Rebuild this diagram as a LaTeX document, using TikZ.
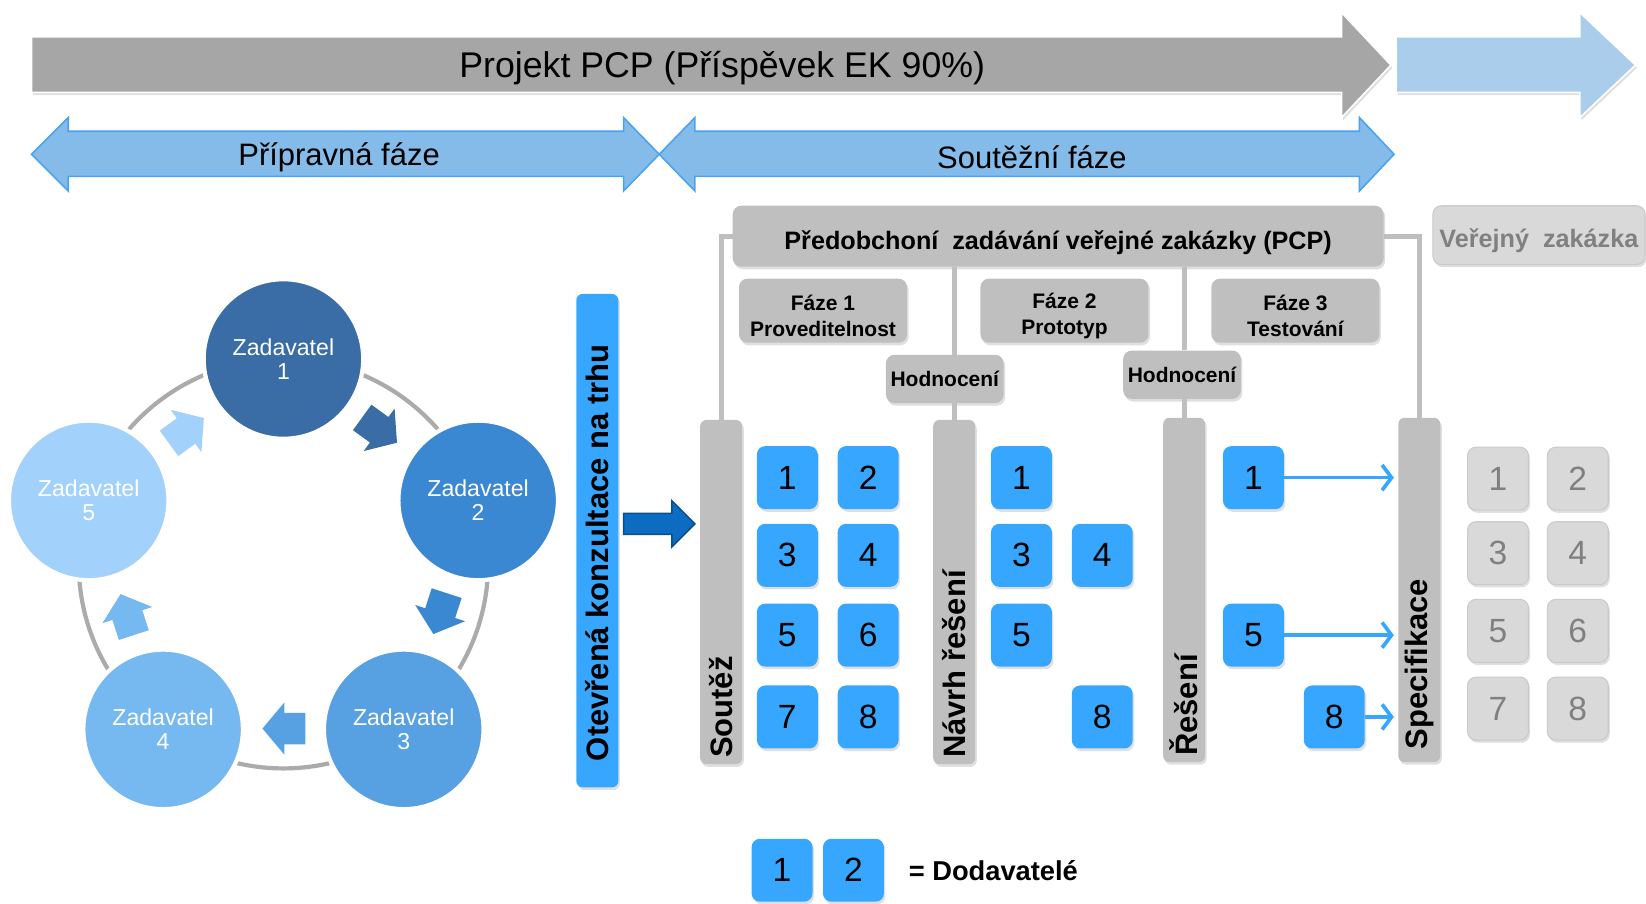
\documentclass[tikz,border=0pt]{standalone}
\usepackage{fontspec}
\setmainfont{Liberation Sans}
\usetikzlibrary{positioning,shadows,arrows.meta}

\definecolor{projgray}{HTML}{A6A6A6}
\definecolor{nextblue}{HTML}{A9CDEB}
\definecolor{phasefill}{HTML}{85BBE8}
\definecolor{phaseedge}{HTML}{4AA3EE}
\definecolor{boxgray}{HTML}{BFBFBF}
\definecolor{suppblue}{HTML}{36A6FE}
\definecolor{ghostfill}{HTML}{D9D9D9}
\definecolor{ghostedge}{HTML}{CACACA}
\definecolor{ghosttext}{HTML}{808080}
\definecolor{pushblue}{HTML}{0B6CC2}
\definecolor{pushedge}{HTML}{0B4C8A}
\definecolor{ringgray}{HTML}{ABABAB}
\definecolor{zadA}{HTML}{3A6CA6}
\definecolor{zadB}{HTML}{3A87D2}
\definecolor{zadC}{HTML}{57A1E3}
\definecolor{zadD}{HTML}{76B9F1}
\definecolor{zadE}{HTML}{A2D2FC}

\tikzset{
  softshadow/.style={drop shadow={shadow xshift=1.5pt,shadow yshift=-2.5pt,opacity=0.25}},
  greybox/.style={fill=boxgray, rounded corners=8pt, inner sep=0pt, softshadow},
  phasebox/.style={greybox, minimum width=160pt, minimum height=61pt},
  phasetext/.style={align=center, inner sep=0pt, font=\bfseries\fontsize{20}{24}\selectfont},
  evalbox/.style={greybox, minimum width=112pt, minimum height=46pt,
    font=\bfseries\fontsize{20}{24}\selectfont},
  stagebar/.style={greybox, rounded corners=6pt, minimum width=40pt, minimum height=328pt},
  bartext/.style={rotate=90, anchor=west, inner sep=0pt,
    font=\bfseries\fontsize{29.5}{34}\selectfont},
  supplier/.style={fill=suppblue, rounded corners=8pt, minimum width=58pt, minimum height=60pt,
    inner sep=0pt, font=\fontsize{32}{36}\selectfont, softshadow},
  ghost/.style={supplier, fill=ghostfill, draw=ghostedge, line width=1pt, text=ghosttext},
  zadavatel/.style={circle, minimum size=152pt, inner sep=0pt, draw=white, line width=4pt,
    text=white, align=center, font=\fontsize{22}{23}\selectfont},
  link/.style={draw=boxgray, line width=5pt},
  pick/.style={draw=suppblue, line width=3.5pt, -{Straight Barb[length=9pt,width=24pt]}},
}

\begin{document}
\begin{tikzpicture}[x=1pt, y=-1pt]
\useasboundingbox (0,0) rectangle (1568,861);

% project arrows
\draw[fill=projgray, draw=white, line width=1.5pt, softshadow] (30,35) -- (1278,35) -- (1278,12) -- (1325,62) -- (1278,112) -- (1278,88) -- (30,88) -- cycle;
\node[font=\fontsize{34}{40}\selectfont] (projekt) at (688,65) {Projekt PCP (Příspěvek EK 90\%)};
\draw[fill=nextblue, draw=white, line width=1.5pt, softshadow] (1330,35) -- (1505,35) -- (1505,12) -- (1558,62) -- (1505,112) -- (1505,88) -- (1330,88) -- cycle;

% phases
\draw[fill=phasefill, draw=phaseedge, line width=1.5pt] (30,147) -- (65,112) -- (65,125) -- (594,125) -- (594,112) -- (628,147) -- (594,182) -- (594,168) -- (65,168) -- (65,182) -- cycle;
\draw[fill=phasefill, draw=phaseedge, line width=1.5pt] (628,147) -- (662,112) -- (662,125) -- (1295,125) -- (1295,112) -- (1328,147) -- (1295,182) -- (1295,168) -- (662,168) -- (662,182) -- cycle;
\node[font=\fontsize{29.5}{34}\selectfont] (priprava) at (323,150) {Přípravná fáze};
\node[font=\fontsize{29.5}{34}\selectfont] (soutezni) at (983,150) {Soutěžní fáze};

% zadavatele
\coordinate (hub) at (270,537);
\draw[ringgray, line width=4pt] (hub) circle [radius=195pt];
\node[zadavatel, fill=zadA] (z1) at (270,342) {Zadavatel\\1};
\node[zadavatel, fill=zadB] (z2) at (455.5,476.7) {Zadavatel\\2};
\node[zadavatel, fill=zadC] (z3) at (384.6,694.8) {Zadavatel\\3};
\node[zadavatel, fill=zadD] (z4) at (155.4,694.8) {Zadavatel\\4};
\node[zadavatel, fill=zadE] (z5) at (84.5,476.7) {Zadavatel\\5};

\begin{scope}[shift={(362,410)}, rotate=-36]
\fill[zadA] (-21,-15) -- (-1,-15) -- (-1,-25) -- (20,0) -- (-1,25) -- (-1,15) -- (-21,15) -- cycle;
\end{scope}
\begin{scope}[shift={(419,585)}, rotate=-108]
\fill[zadB] (-21,-15) -- (-1,-15) -- (-1,-25) -- (20,0) -- (-1,25) -- (-1,15) -- (-21,15) -- cycle;
\end{scope}
\begin{scope}[shift={(270,694)}, rotate=180]
\fill[zadC] (-21,-15) -- (-1,-15) -- (-1,-25) -- (20,0) -- (-1,25) -- (-1,15) -- (-21,15) -- cycle;
\end{scope}
\begin{scope}[shift={(121,585)}, rotate=108]
\fill[zadD] (-21,-15) -- (-1,-15) -- (-1,-25) -- (20,0) -- (-1,25) -- (-1,15) -- (-21,15) -- cycle;
\end{scope}
\begin{scope}[shift={(178,410)}, rotate=36]
\fill[zadE] (-21,-15) -- (-1,-15) -- (-1,-25) -- (20,0) -- (-1,25) -- (-1,15) -- (-21,15) -- cycle;
\end{scope}

% konzultace
\node[fill=suppblue, rounded corners=6pt, minimum width=40pt, minimum height=470pt, softshadow] (otk) at (569,515) {};
\node[bartext] (otktext) at ([yshift=25pt]otk.south) {Otevřená konzultace na trhu};
\draw[fill=pushblue, draw=pushedge, line width=1.5pt] (594,489) -- (640,489) -- (640,477) -- (662,499) -- (640,521) -- (640,509) -- (594,509) -- cycle;

% PCP
\node[greybox, minimum width=620pt, minimum height=58pt] (pcp) at (1008,225) {};
\node[font=\bfseries\fontsize{24}{28}\selectfont] (pcptext) at ([yshift=-6pt]pcp.center) {Předobchoní\ \ zadávání veřejné zakázky (PCP)};
\node[greybox, fill=ghostfill, draw=ghostedge, line width=1pt, minimum width=202pt, minimum height=56pt] (verejna) at (1466,224) {};
\node[text=ghosttext, font=\bfseries\fontsize{24}{28}\selectfont] (verejnatext) at ([yshift=-5pt]verejna.center) {Veřejný\ \ zakázka};

\node[phasebox] (faze1) at (784,296) {};
\node[phasebox] (faze2) at (1014,296) {};
\node[phasebox] (faze3) at (1234,296) {};
\node[phasetext] (faze1t) at ([yshift=-5pt]faze1.center) {Fáze 1\\Proveditelnost};
\node[phasetext] (faze2t) at ([yshift=-5pt]faze2.center) {Fáze 2\\Prototyp};
\node[phasetext] (faze3t) at ([yshift=-5pt]faze3.center) {Fáze 3\\Testování};
\node[evalbox] (hodn1) at (900,361) {Hodnocení};
\node[evalbox] (hodn2) at (1126,357) {Hodnocení};

\node[stagebar] (soutez) at (687,564) {};
\node[stagebar] (navrh) at (909,564) {};
\node[stagebar] (reseni) at (1128,562) {};
\node[stagebar] (spec) at (1352,562) {};
\node[bartext] (soutezt) at ([yshift=6pt]soutez.south) {Soutěž};
\node[bartext] (navrht) at ([yshift=6pt]navrh.south) {Návrh řešení};
\node[bartext] (resenit) at ([yshift=6pt]reseni.south) {Řešení};
\node[bartext] (spect) at ([yshift=12pt]spec.south) {Specifikace};

\draw[link] (pcp.west) -| (soutez.north);
\draw[link] (pcp.east) -| (spec.north);
\draw[link] (navrh.north |- pcp.south) -- (navrh.north |- hodn1.north);
\draw[link] (navrh.north |- hodn1.south) -- (navrh.north);
\draw[link] (reseni.north |- pcp.south) -- (reseni.north |- hodn2.north);
\draw[link] (reseni.north |- hodn2.south) -- (reseni.north);

% dodavatele
\node[supplier] (s1) at (750,455) {1};
\node[supplier] (s2) at (827,455) {2};
\node[supplier] (s3) at (750,529) {3};
\node[supplier] (s4) at (827,529) {4};
\node[supplier] (s5) at (750,605) {5};
\node[supplier] (s6) at (827,605) {6};
\node[supplier] (s7) at (750,683) {7};
\node[supplier] (s8) at (827,683) {8};

\node[supplier] (n1) at (973,455) {1};
\node[supplier] (n3) at (973,529) {3};
\node[supplier] (n4) at (1050,529) {4};
\node[supplier] (n5) at (973,605) {5};
\node[supplier] (n8) at (1050,683) {8};

\node[supplier] (r1) at (1194,455) {1};
\node[supplier] (r5) at (1194,605) {5};
\node[supplier] (r8) at (1271,683) {8};

\draw[pick] (r1.east) -- ([xshift=-4pt]r1.east -| spec.west);
\draw[pick] (r5.east) -- ([xshift=-4pt]r5.east -| spec.west);
\draw[pick] (r8.east) -- ([xshift=-4pt]r8.east -| spec.west);

\node[ghost] (g1) at (1427,456) {1};
\node[ghost] (g2) at (1503,456) {2};
\node[ghost] (g3) at (1427,527) {3};
\node[ghost] (g4) at (1503,527) {4};
\node[ghost] (g5) at (1427,601) {5};
\node[ghost] (g6) at (1503,601) {6};
\node[ghost] (g7) at (1427,675) {7};
\node[ghost] (g8) at (1503,675) {8};

% legenda
\node[supplier] (l1) at (745,829) {1};
\node[supplier] (l2) at (813,829) {2};
\node[right=20pt of l2, font=\bfseries\fontsize{26}{30}\selectfont] (legenda) {= Dodavatelé};

\end{tikzpicture}
\end{document}
